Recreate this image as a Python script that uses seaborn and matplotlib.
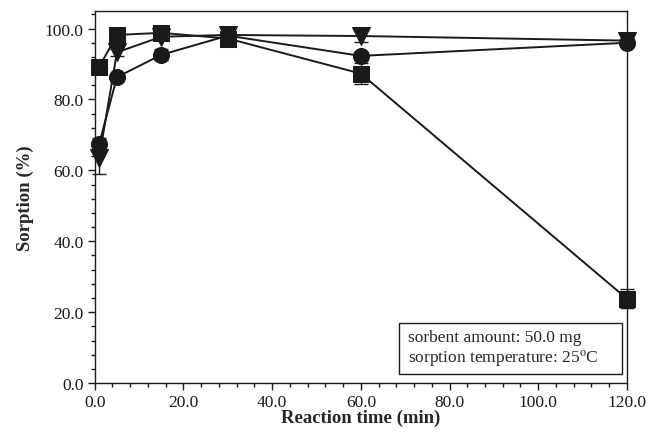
import numpy as np
import pandas as pd
import seaborn as sns
import matplotlib.pyplot as plt
from matplotlib.patches import Rectangle
from matplotlib.ticker import MultipleLocator, FormatStrFormatter

# data
time_min = [1, 5, 15, 30, 60, 120]
circle_vals = [67.5, 86.3, 92.6, 98.0, 92.3, 96.0]
circle_err = [1.5, 1.0, 1.5, 1.0, 1.2, 1.0]
tri_vals = [63.6, 93.3, 97.7, 98.2, 97.9, 96.6]
tri_err = [4.5, 1.0, 1.0, 1.0, 1.8, 0.5]
square_vals = [89.2, 98.2, 98.8, 97.2, 87.3, 23.8]
square_err = [1.0, 0.5, 0.8, 1.0, 3.0, 2.7]

series = [
    ("circle", circle_vals, circle_err, "o", 11.5),
    ("triangle", tri_vals, tri_err, "v", 12.5),
    ("square", square_vals, square_err, "s", 11.5),
]

sns.set_style("ticks")
plt.rcParams['font.family'] = ['Liberation Serif', 'DejaVu Serif']
plt.rcParams['mathtext.fontset'] = 'stix'

fig = plt.figure(figsize=(6.49, 4.39), dpi=100)
ax = fig.add_axes([0.146, 0.125, 0.82, 0.848])

for name, vals, err, mk, ms in series:
    df = pd.DataFrame({"t": time_min, "v": vals})
    ax.errorbar(time_min, vals, yerr=err, fmt="none", ecolor="#1a1a1a",
                elinewidth=1.0, capsize=5, capthick=1.0, clip_on=False, zorder=2)
    sns.lineplot(data=df, x="t", y="v", ax=ax, color="#1a1a1a", linewidth=1.4,
                 marker=mk, markersize=ms, markeredgecolor="#1a1a1a",
                 markerfacecolor="#1a1a1a", clip_on=False, zorder=3)

ax.set_xlim(0, 120)
ax.set_ylim(0, 105)
ax.xaxis.set_major_locator(MultipleLocator(20))
ax.xaxis.set_minor_locator(MultipleLocator(4))
ax.yaxis.set_major_locator(MultipleLocator(20))
ax.yaxis.set_minor_locator(MultipleLocator(4))
ax.xaxis.set_major_formatter(FormatStrFormatter("%.1f"))
ax.yaxis.set_major_formatter(FormatStrFormatter("%.1f"))
ax.tick_params(which="both", direction="out", top=False, right=False,
               labelsize=12.5, color="#1a1a1a", labelcolor="#1a1a1a")
ax.tick_params(which="major", length=5, width=1, pad=3)
ax.tick_params(which="minor", length=3, width=1)
for sp in ax.spines.values():
    sp.set_linewidth(1.0)
    sp.set_color("#1a1a1a")

ax.set_xlabel("Reaction time (min)", fontsize=13.5, fontweight="bold", labelpad=-1)
ax.set_ylabel("Sorption (%)", fontsize=13.5, fontweight="bold", labelpad=8)

# annotation box
ax.add_patch(Rectangle((0.571, 0.024), 0.42, 0.137, transform=ax.transAxes,
                       facecolor="white", edgecolor="#1a1a1a", linewidth=1.0,
                       zorder=4))
ax.text(0.588, 0.093,
        "sorbent amount: 50.0 mg\nsorption temperature: 25$^{\\mathrm{o}}$C",
        transform=ax.transAxes, ha="left", va="center", fontsize=12.5,
        linespacing=1.2, multialignment="left", zorder=5)

fig.savefig("out.png", dpi=100)
